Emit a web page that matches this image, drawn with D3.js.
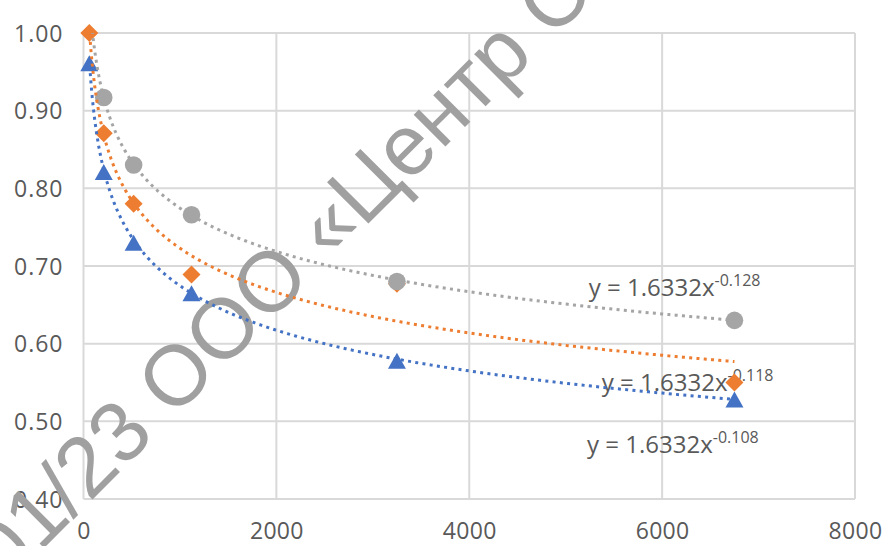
<!DOCTYPE html>
<html><head><meta charset="utf-8">
<script src="https://cdn.jsdelivr.net/npm/d3@7/dist/d3.min.js"></script>
<style>
html,body{margin:0;padding:0;background:#fff;}
svg{display:block;}
</style></head>
<body>
<svg id="chart" width="885" height="546"></svg>
<script>
// ---- data ----
const xTicks = [0, 2000, 4000, 6000, 8000];
const yTicks = [0.40, 0.50, 0.60, 0.70, 0.80, 0.90, 1.00];

const blueX = [60, 210, 520, 1120, 3250, 6750];
const blueY = [0.961, 0.821, 0.730, 0.665, 0.578, 0.528];

const orangeX = [60, 210, 520, 1120, 3250, 6750];
const orangeY = [1.000, 0.871, 0.780, 0.689, 0.677, 0.550];

const grayX = [210, 520, 1120, 3250, 6750];
const grayY = [0.917, 0.830, 0.766, 0.680, 0.630];

const trendCoef = 1.6332;
const trendExp = { blue: -0.128, orange: -0.118, gray: -0.108 };
const trendRange = [60, 6750];
const labelCoefText = "1.6332";
const labelExpText = { blue: "-0.128", orange: "-0.118", gray: "-0.108" };

// ---- layout ----
const svg = d3.select("#chart");
const L = 83.5, R = 855, T = 33, B = 499;
const x = d3.scaleLinear().domain([0, 8000]).range([L, R]);
const y = d3.scaleLinear().domain([0.40, 1.00]).range([B, T]);

const gridColor = "#d9d9d9";
const textColor = "#595959";
const colors = { blue: "#4472C4", orange: "#ED7D31", gray: "#A5A5A5" };

// gridlines
svg.append("g").selectAll("line.h").data(yTicks).join("line")
  .attr("x1", L).attr("x2", R)
  .attr("y1", d => y(d)).attr("y2", d => y(d))
  .attr("stroke", gridColor).attr("stroke-width", 2);
svg.append("g").selectAll("line.v").data(xTicks).join("line")
  .attr("y1", T).attr("y2", B)
  .attr("x1", d => x(d)).attr("x2", d => x(d))
  .attr("stroke", gridColor).attr("stroke-width", 2);

// axes labels via d3 axes
const yAxis = svg.append("g").attr("transform", `translate(${L},0)`)
  .call(d3.axisLeft(y).tickValues(yTicks).tickFormat(d3.format(".2f")).tickSize(0).tickPadding(20));
yAxis.select(".domain").remove();
yAxis.selectAll("text").attr("font-family", "Open Sans").attr("font-size", 23)
  .attr("letter-spacing", "1px").attr("fill", textColor).attr("dy", "0.36em");

const xAxis = svg.append("g").attr("transform", `translate(0,${B})`)
  .call(d3.axisBottom(x).tickValues(xTicks).tickFormat(d3.format("d")).tickSize(0).tickPadding(0));
xAxis.select(".domain").remove();
xAxis.selectAll("text").attr("font-family", "Open Sans").attr("font-size", 23)
  .attr("letter-spacing", "0.3px").attr("fill", textColor).attr("y", 40).attr("dy", 0);

// watermark
svg.append("text")
  .attr("transform", "translate(6,586) rotate(-45)")
  .attr("font-family", "Liberation Sans, Arial, sans-serif")
  .attr("font-size", 85)
  .attr("fill", "#a0a0a0")
  .text("01/23 ООО «Центр С");

// trendline equation labels
function eqLabel(key, vx, vy) {
  const t = svg.append("text")
    .attr("x", x(vx)).attr("y", y(vy))
    .attr("font-family", "Open Sans").attr("font-size", 24).attr("fill", textColor);
  t.append("tspan").text("y = " + labelCoefText + "x");
  t.append("tspan").attr("font-size", 16).attr("dy", -10).text(labelExpText[key]);
}
eqLabel("blue", 5240, 0.6615);
eqLabel("orange", 5375, 0.539);
eqLabel("gray", 5222, 0.459);

// markers
function markerPath(kind, cx, cy) {
  if (kind === "circle") {
    const r = 8.8;
    return `M${cx - r},${cy}a${r},${r} 0 1,0 ${2 * r},0a${r},${r} 0 1,0 ${-2 * r},0Z`;
  }
  if (kind === "diamond") {
    const w = 9, h = 9;
    return `M${cx},${cy - h}L${cx + w},${cy}L${cx},${cy + h}L${cx - w},${cy}Z`;
  }
  const w = 9, h = 8;
  return `M${cx},${cy - h}L${cx + w},${cy + h}L${cx - w},${cy + h}Z`;
}
function drawMarkers(xs, ys, kind, color) {
  svg.append("g").selectAll("path").data(xs.map((d, i) => [d, ys[i]])).join("path")
    .attr("d", d => markerPath(kind, x(d[0]), y(d[1])))
    .attr("fill", color);
}
drawMarkers(blueX, blueY, "triangle", colors.blue);
drawMarkers(orangeX, orangeY, "diamond", colors.orange);
drawMarkers(grayX, grayY, "circle", colors.gray);

// trendlines (power, from displayed equations), clipped to plot area
svg.append("clipPath").attr("id", "plotclip").append("rect")
  .attr("x", L).attr("y", T).attr("width", R - L).attr("height", B - T);
const tg = svg.append("g").attr("clip-path", "url(#plotclip)");
const samples = d3.range(0, 401).map(i => trendRange[0] * Math.pow(trendRange[1] / trendRange[0], i / 400));
const line = d3.line().x(d => x(d[0])).y(d => y(d[1]));
["gray", "orange", "blue"].forEach(k => {
  tg.append("path")
    .attr("d", line(samples.map(v => [v, trendCoef * Math.pow(v, trendExp[k])])))
    .attr("fill", "none").attr("stroke", colors[k]).attr("stroke-width", 3)
    .attr("stroke-dasharray", "3,4.3");
});
</script>
</body></html>
